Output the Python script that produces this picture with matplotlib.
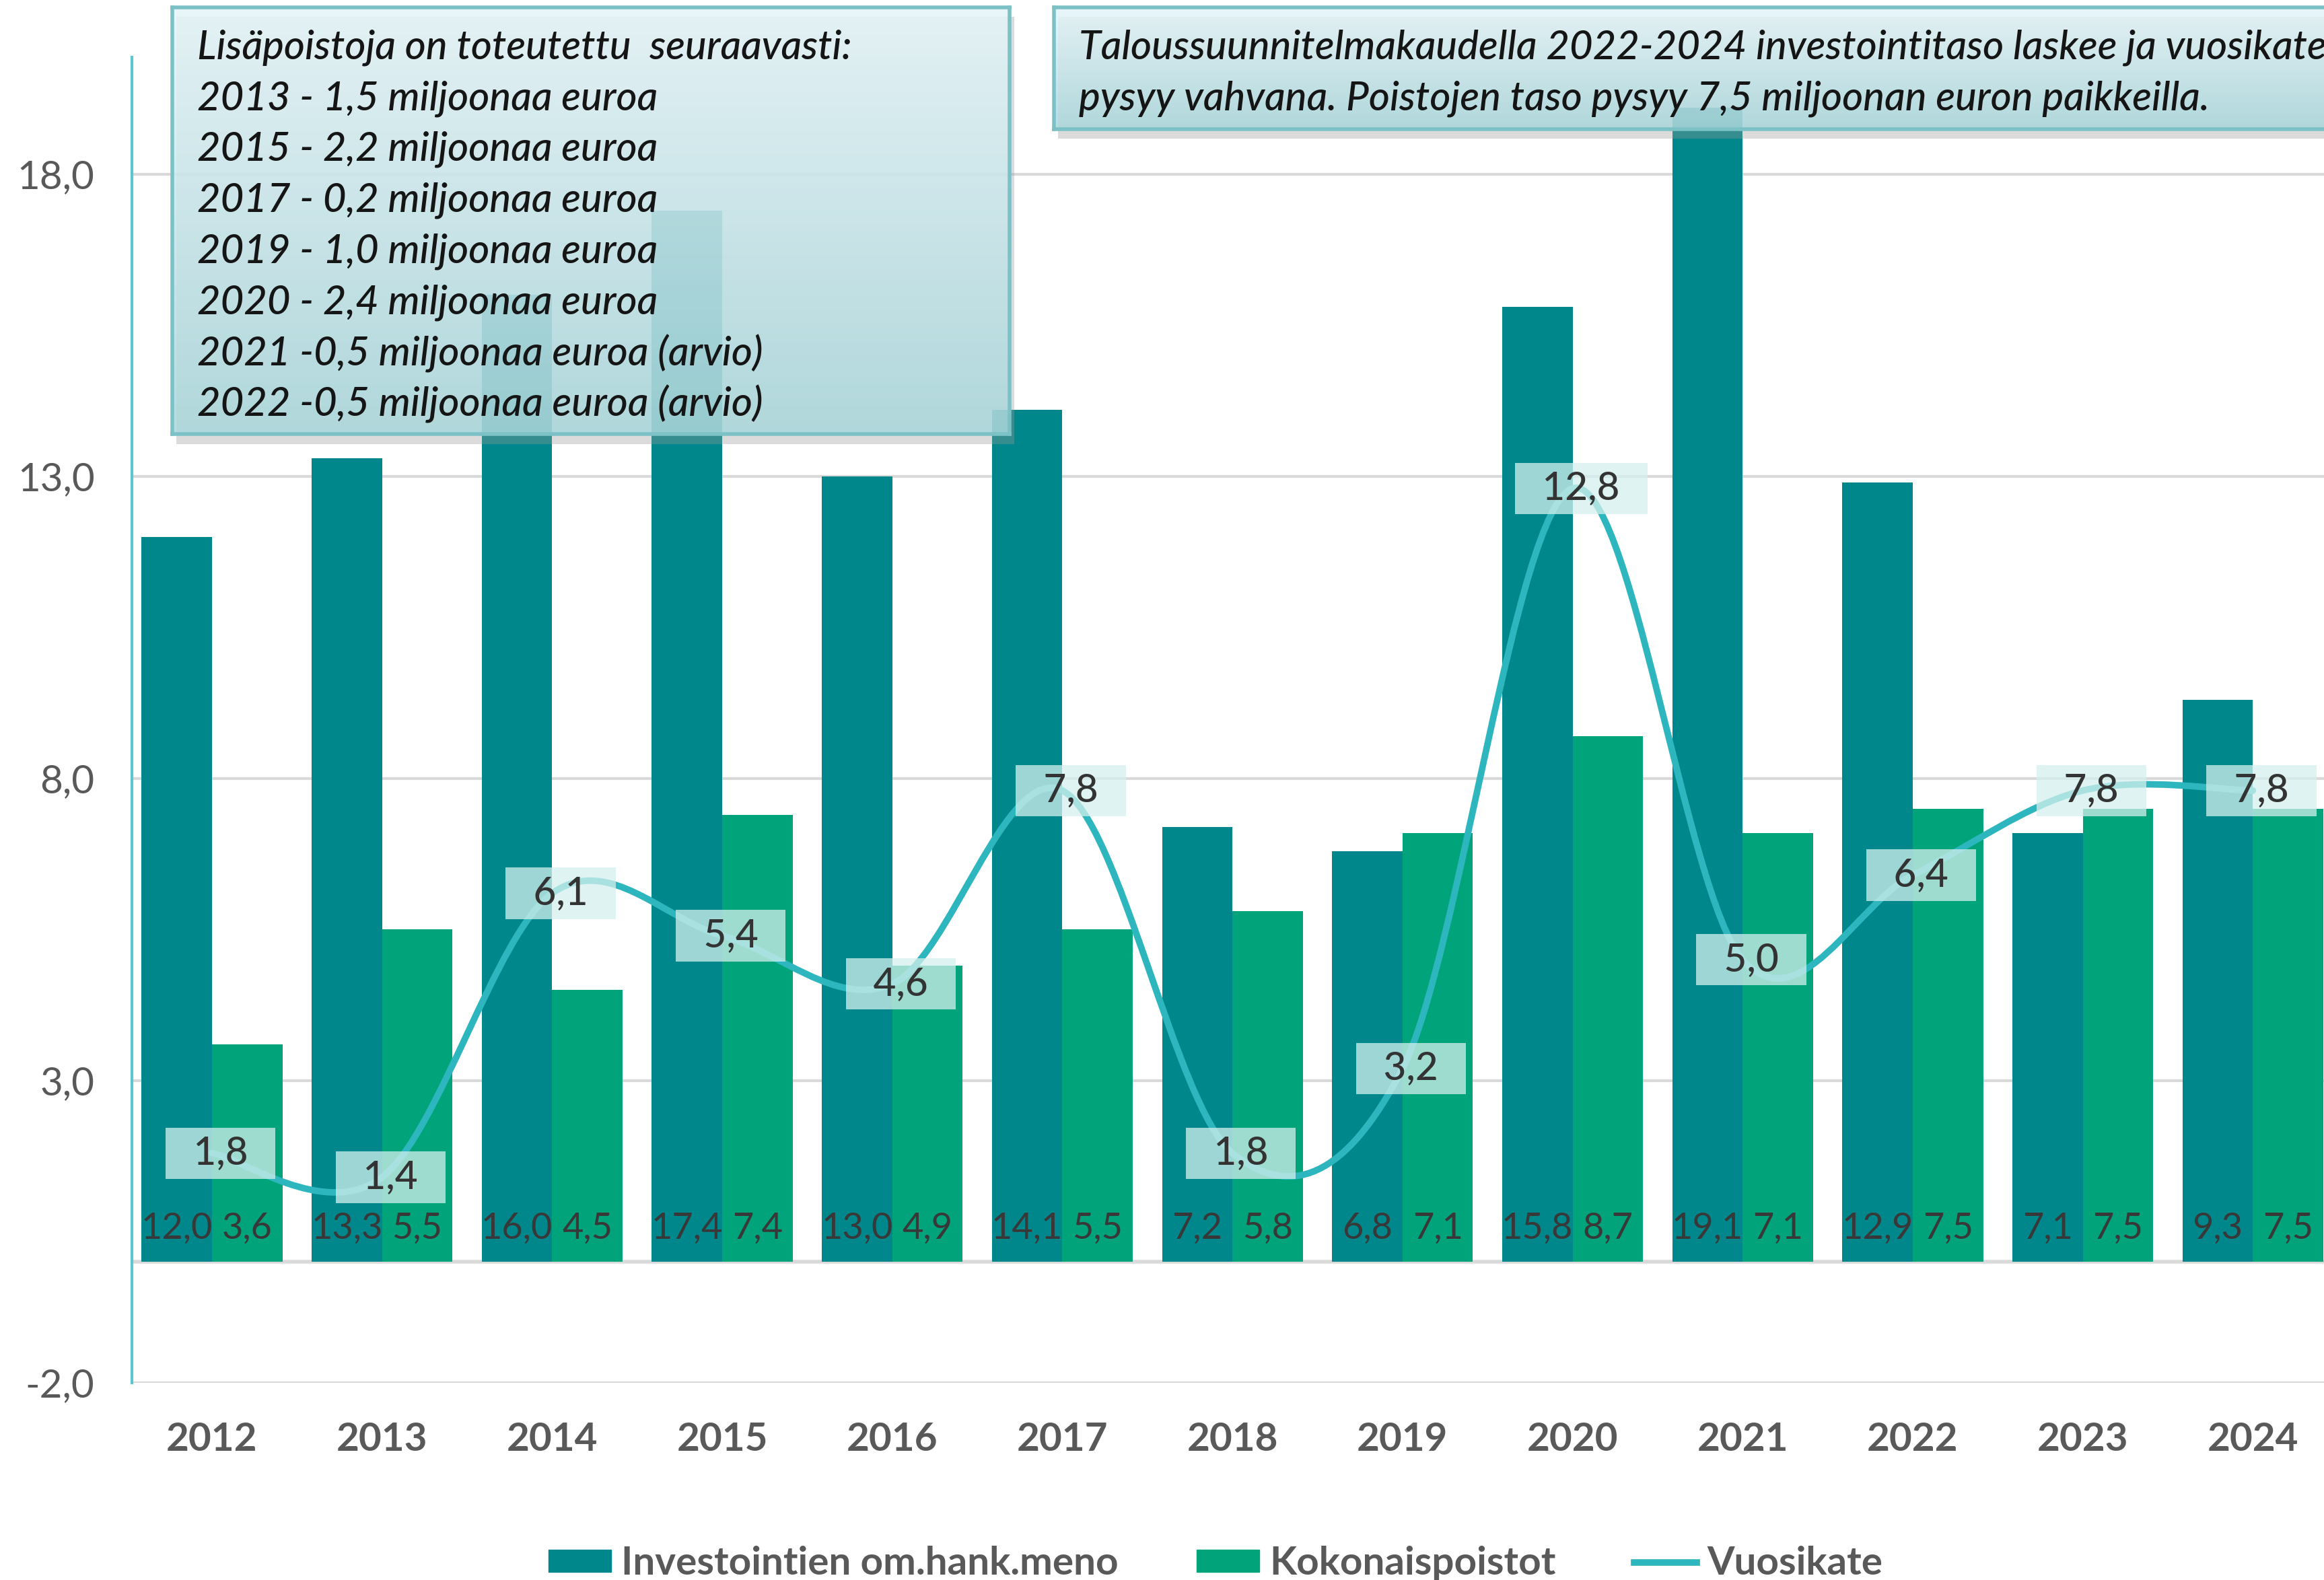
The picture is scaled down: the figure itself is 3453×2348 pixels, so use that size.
import numpy as np
import matplotlib
matplotlib.use('Agg')
import matplotlib.pyplot as plt
from matplotlib.path import Path
from matplotlib.patches import PathPatch, Patch, Rectangle
from matplotlib.lines import Line2D

# data
years = ['2012', '2013', '2014', '2015', '2016', '2017', '2018',
         '2019', '2020', '2021', '2022', '2023', '2024']
investoinnit = [12.0, 13.3, 16.0, 17.4, 13.0, 14.1, 7.2, 6.8, 15.8, 19.1, 12.9, 7.1, 9.3]
poistot = [3.6, 5.5, 4.5, 7.4, 4.9, 5.5, 5.8, 7.1, 8.7, 7.1, 7.5, 7.5, 7.5]
vuosikate = [1.8, 1.4, 6.1, 5.4, 4.6, 7.8, 1.8, 3.2, 12.8, 5.0, 6.4, 7.8, 7.8]
y_ticks = [-2, 3, 8, 13, 18]

series_names = ['Investointien om.hank.meno', 'Kokonaispoistot', 'Vuosikate']
lisapoistot_text = [
    'Lisäpoistoja on toteutettu  seuraavasti:',
    '2013 - 1,5 miljoonaa euroa',
    '2015 - 2,2 miljoonaa euroa',
    '2017 - 0,2 miljoonaa euroa',
    '2019 - 1,0 miljoonaa euroa',
    '2020 - 2,4 miljoonaa euroa',
    '2021 -0,5 miljoonaa euroa (arvio)',
    '2022 -0,5 miljoonaa euroa (arvio)',
]
ts_text = [
    'Taloussuunnitelmakaudella 2022-2024 investointitaso laskee ja vuosikate',
    'pysyy vahvana. Poistojen taso pysyy 7,5 miljoonan euron paikkeilla.',
]

TEAL = '#00878C'
GREEN = '#00A37A'
LINE = '#2DB6BE'
GRID = '#d9d9d9'
TXT = '#595959'

plt.rcParams['font.family'] = ['Lato', 'DejaVu Sans']
FS = 42
LFS = 39


def fmt(v):
    return f'{v:.1f}'.replace('.', ',')


def smooth_path(xs, ys):
    # bezier curve through the points, like Excel's smoothed line
    pts = np.column_stack([xs, ys])
    n = len(pts)
    verts = [pts[0]]
    codes = [Path.MOVETO]
    for i in range(n - 1):
        p0 = pts[max(i - 1, 0)]
        p1 = pts[i]
        p2 = pts[i + 1]
        p3 = pts[min(i + 2, n - 1)]
        verts += [p1 + (p2 - p0) / 6, p2 - (p3 - p1) / 6, p2]
        codes += [Path.CURVE4] * 3
    return Path(verts, codes)


fig = plt.figure(figsize=(34.53, 23.48), dpi=100)
ax = fig.add_axes([0.0568, 0.1248, 1.006 - 0.0568, 0.964 - 0.1248])

x = np.arange(len(years))
w = 0.414
ax.bar(x - w / 2, investoinnit, w, color=TEAL, zorder=2)
ax.bar(x + w / 2, poistot, w, color=GREEN, zorder=2)

for xi, a, b in zip(x, investoinnit, poistot):
    ax.annotate(fmt(a), (xi - w / 2, 0), xytext=(0, 36), textcoords='offset points',
                ha='center', va='center', fontsize=LFS, color='#383838', zorder=4)
    ax.annotate(fmt(b), (xi + w / 2, 0), xytext=(0, 36), textcoords='offset points',
                ha='center', va='center', fontsize=LFS, color='#383838', zorder=4)

ax.add_patch(PathPatch(smooth_path(x, vuosikate), facecolor='none', edgecolor=LINE,
                       lw=7, zorder=3, capstyle='round', joinstyle='round'))
for xi, v in zip(x, vuosikate):
    ax.text(xi + 0.05, v, '  ' + fmt(v) + '  ', ha='center', va='center', fontsize=FS,
            color='#333333', fontweight='medium', zorder=5,
            bbox=dict(boxstyle='square,pad=0.2', fc='#d4f0ee', ec='none', alpha=0.75))

ax.set_xlim(-0.47, len(years) - 0.5)
ax.set_ylim(-2, 19.94)
ax.set_yticks(y_ticks)
ax.set_yticklabels([fmt(t) for t in y_ticks])
ax.set_xticks(x)
ax.set_xticklabels(years)
ax.tick_params(axis='both', length=0, labelsize=FS, labelcolor=TXT)
ax.tick_params(axis='x', pad=42)
ax.tick_params(axis='y', pad=40)
for t in ax.get_xticklabels():
    t.set_fontweight('bold')

ax.grid(axis='y', color=GRID, lw=3, zorder=0)
ax.axhline(0, color=GRID, lw=4, zorder=1)
for s in ['top', 'right', 'bottom']:
    ax.spines[s].set_visible(False)
ax.spines['left'].set_color('#5cc6ce')
ax.spines['left'].set_linewidth(3)


def note_box(rect, lines, x0, y0, dy):
    l, b, bw, bh = rect
    fig.patches.append(Rectangle((l + 0.002, b - 0.006), bw, bh, transform=fig.transFigure,
                                 fc='#9a9a9a', ec='none', alpha=0.35, zorder=4))
    bax = fig.add_axes(rect, zorder=5)
    grad = np.linspace(0, 1, 256).reshape(-1, 1)
    cmap = matplotlib.colors.LinearSegmentedColormap.from_list('g', ['#e6f6fa', '#a9d7dc'])
    bax.imshow(grad, aspect='auto', cmap=cmap, extent=[0, 1, 0, 1], alpha=0.85)
    bax.set_xticks([])
    bax.set_yticks([])
    bax.patch.set_alpha(0)
    for s in bax.spines.values():
        s.set_color('#7cc1c6')
        s.set_linewidth(4)
    for i, line in enumerate(lines):
        fig.text(x0, y0 - i * dy, line, fontsize=43, style='italic', fontweight='medium',
                 color='#151515', va='center', ha='left', zorder=6)


note_box([0.074, 0.7251, 0.3603, 0.2702], lisapoistot_text, 0.0848, 1 - 32 / 1066, 34.4 / 1066)
note_box([0.4534, 0.9184, 0.6, 0.0769], ts_text, 0.4643, 1 - 32 / 1066, 34.4 / 1066)

handles = [Patch(color=TEAL), Patch(color=GREEN), Line2D([], [], color=LINE, lw=7)]
leg = fig.legend(handles, series_names, loc='center', bbox_to_anchor=(0.523, 1 - 1055 / 1066),
                 ncol=3, frameon=False, fontsize=FS, handlelength=1.6, handleheight=0.5,
                 handletextpad=0.25, columnspacing=2.0)
for t in leg.get_texts():
    t.set_color(TXT)
    t.set_fontweight('bold')

fig.savefig('out.png', dpi=100)
